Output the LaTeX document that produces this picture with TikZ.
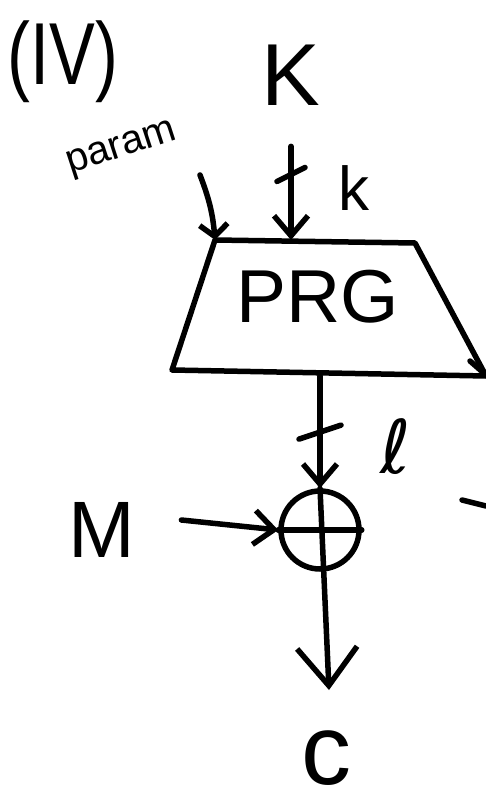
\documentclass[tikz,border=0pt]{standalone}
\usepackage{fontspec}
\setmainfont{Liberation Sans}
\newfontfamily\symfont{DejaVu Sans}
\usetikzlibrary{arrows.meta}
\begin{document}
\begin{tikzpicture}[x=1pt,y=-1pt,line width=5.5pt,line cap=round,line join=round,
  hand/.style={-{Straight Barb[length=20pt,width=34pt]}},
  handbig/.style={-{Straight Barb[length=38pt,width=60pt]}},
  handsmall/.style={-{Straight Barb[length=12pt,width=28pt]}}]
\useasboundingbox (0,0) rectangle (486,810);
% labels
\node[xscale=0.78] (iv) at (63,62) {\fontsize{88}{88}\selectfont (IV)};
\node[rotate=18] (param) at (122,150) {\fontsize{40}{40}\selectfont param};
\node (K) at (291,75) {\fontsize{88}{88}\selectfont K};
\node (k) at (354,188) {\fontsize{62}{62}\selectfont k};
\node (M) at (102,530) {\fontsize{80}{80}\selectfont M};
\node (l) at (396,447) {\fontsize{74}{74}\symfont ℓ};
\node (c) at (326,758) {\fontsize{100}{100}\selectfont c};
% PRG box
\coordinate (tl) at (215,240);
\coordinate (tr) at (415,243);
\coordinate (br) at (486,376);
\coordinate (bl) at (172,370);
\draw (tl) -- (tr) -- (br) -- (bl) -- cycle;
\node (prg) at (318,297) {\fontsize{75}{75}\selectfont PRG};
\node[draw,circle,minimum size=78pt,inner sep=0pt] (xor) at (320,530) {};
\draw (xor.west) -- (xor.east);
% key and param into PRG
\draw[hand] ([yshift=-35pt]K.south) -- coordinate[pos=0.3] (kt) (K.south |- tl);
\draw ([shift={(-14pt,-7pt)}]kt) -- ([shift={(14pt,7pt)}]kt);
\coordinate (ptail) at (200,175);
\draw[handsmall] (ptail) to[bend left=8] (tl);
% stream into xor
\draw[hand] (xor.north |- 0,376) -- coordinate[pos=0.5] (lt) (xor.north);
\draw ([shift={(-21pt,-7pt)}]lt) -- ([shift={(21pt,7pt)}]lt);
\draw[hand] ([xshift=40pt,yshift=10pt]M.east) -- (xor.west);
\coordinate (cend) at (329,690);
\draw[handbig] (xor.north) -- (cend);
% strokes cut by the right edge
\coordinate (r1) at (462,500);
\coordinate (r2) at (486,506);
\draw (r1) -- (r2);
\coordinate (b1) at (470,361);
\coordinate (b2) at (486,375);
\draw (b1) -- (b2);
\end{tikzpicture}
\end{document}
